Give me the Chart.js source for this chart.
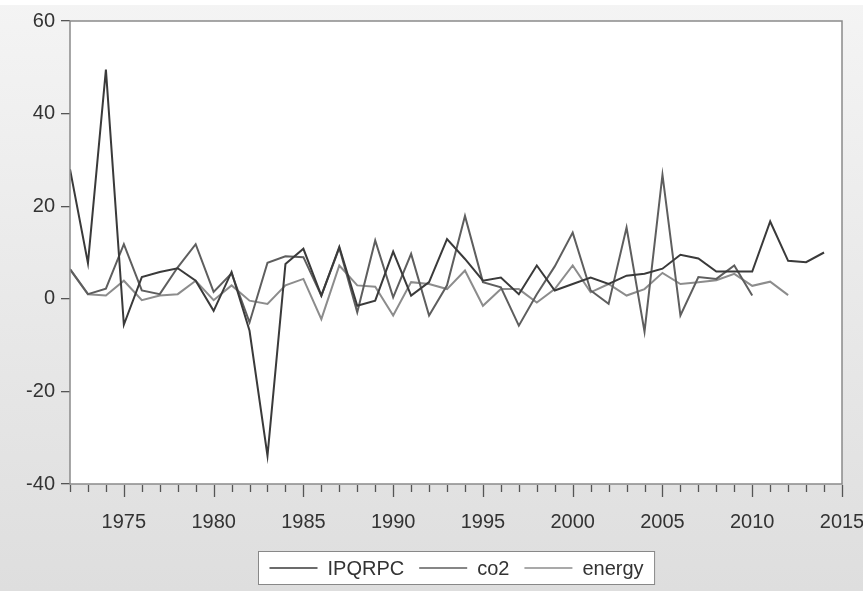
<!DOCTYPE html>
<html>
<head>
<meta charset="utf-8">
<script src="https://cdn.jsdelivr.net/npm/chart.js@4.4.0/dist/chart.umd.min.js"></script>
<style>
  html, body { margin: 0; padding: 0; background: #e8e8e8; }
  #wrap { width: 863px; height: 591px; }
</style>
</head>
<body>
<div id="wrap"><canvas id="c" width="863" height="591"></canvas></div>
<script>
// yearly growth rates, 1972 onwards
const years = [1972, 1973, 1974, 1975, 1976, 1977, 1978, 1979, 1980, 1981,
  1982, 1983, 1984, 1985, 1986, 1987, 1988, 1989, 1990, 1991,
  1992, 1993, 1994, 1995, 1996, 1997, 1998, 1999, 2000, 2001,
  2002, 2003, 2004, 2005, 2006, 2007, 2008, 2009, 2010, 2011,
  2012, 2013, 2014];
const ipqrpc = [28.0, 7.7, 49.5, -5.6, 4.7, 5.8, 6.6, 3.9, -2.6, 5.8,
  -6.9, -33.9, 7.5, 10.8, 0.7, 11.2, -1.5, -0.4, 10.2, 0.7,
  3.6, 12.9, 8.6, 3.9, 4.6, 1.0, 7.2, 1.8, 3.2, 4.6,
  3.2, 5.0, 5.4, 6.5, 9.5, 8.7, 5.9, 5.9, 5.9, 16.7,
  8.2, 7.9, 10.0];
const co2 = [6.4, 1.0, 2.2, 11.8, 1.8, 1.0, 6.8, 11.8, 1.5, 5.5,
  -5.1, 7.8, 9.2, 9.0, 0.7, 11.0, -2.9, 12.6, 0.3, 9.7,
  -3.6, 2.9, 17.9, 3.6, 2.5, -5.8, 1.0, 7.0, 14.3, 1.8,
  -1.1, 15.4, -7.1, 26.8, -3.6, 4.7, 4.3, 7.2, 0.7];
const energy = [6.4, 1.0, 0.7, 3.9, -0.3, 0.7, 1.0, 3.9, -0.3, 2.9,
  -0.4, -1.1, 2.9, 4.3, -4.4, 7.2, 2.9, 2.6, -3.6, 3.6,
  3.2, 2.1, 6.1, -1.5, 2.1, 2.1, -0.8, 2.1, 7.2, 1.4,
  3.2, 0.7, 2.1, 5.6, 3.2, 3.6, 4.0, 5.4, 2.8, 3.7,
  0.8];
const yTicks = [-40, -20, 0, 20, 40, 60];
const xLabels = [1975, 1980, 1985, 1990, 1995, 2000, 2005, 2010, 2015];

const pts = arr => arr.map((v, i) => ({ x: years[i], y: v }));

const FONT = "Liberation Sans, Arial, sans-serif";

// grey panel, white plot, frame, year ticks, boxed legend
const panel = {
  id: "panel",
  beforeDraw(chart) {
    const { ctx, chartArea: a, width, height } = chart;
    const g = ctx.createLinearGradient(0, 0, 0, height);
    g.addColorStop(0, "#f4f4f4");
    g.addColorStop(1, "#dedede");
    ctx.save();
    ctx.fillStyle = g;
    ctx.fillRect(0, 0, width, height);
    ctx.fillStyle = "#ffffff";
    ctx.fillRect(0, 0, width, 5);
    ctx.fillRect(a.left, a.top, a.right - a.left, a.bottom - a.top);
    ctx.restore();
  },
  afterDraw(chart) {
    const { ctx, chartArea: a } = chart;
    const xs = chart.scales.x;
    ctx.save();
    ctx.strokeStyle = "#8a8a8a";
    ctx.lineWidth = 1.5;
    ctx.strokeRect(a.left, a.top, a.right - a.left, a.bottom - a.top);

    ctx.strokeStyle = "#555";
    ctx.lineWidth = 1.3;
    for (let yr = 1972; yr <= 2015; yr++) {
      const px = Math.round(xs.getPixelForValue(yr)) + 0.5;
      const len = yr % 5 === 0 ? 12 : 7;
      ctx.beginPath();
      ctx.moveTo(px, a.bottom + 1);
      ctx.lineTo(px, a.bottom + 1 + len);
      ctx.stroke();
    }

    // legend
    ctx.font = "20px " + FONT;
    const sets = chart.data.datasets;
    const lineW = 48, gap1 = 10, gap2 = 15;
    let total = 0;
    sets.forEach((d, i) => {
      total += lineW + gap1 + ctx.measureText(d.label).width + (i < sets.length - 1 ? gap2 : 0);
    });
    const padX = 11;
    const boxW = total + padX * 2;
    const cx = (a.left + a.right) / 2;
    const bx = Math.round(cx - boxW / 2) + 0.5, by = 551.5, bh = 33;
    ctx.fillStyle = "#ffffff";
    ctx.fillRect(bx, by, boxW, bh);
    ctx.strokeStyle = "#888";
    ctx.lineWidth = 1;
    ctx.strokeRect(bx, by, boxW, bh);
    let x = bx + padX;
    const ly = by + bh / 2;
    ctx.textBaseline = "middle";
    ctx.textAlign = "left";
    sets.forEach(d => {
      ctx.strokeStyle = d.borderColor;
      ctx.lineWidth = 1.5;
      ctx.beginPath();
      ctx.moveTo(x, ly);
      ctx.lineTo(x + lineW, ly);
      ctx.stroke();
      x += lineW + gap1;
      ctx.fillStyle = "#333";
      ctx.fillText(d.label, x, ly + 1);
      x += ctx.measureText(d.label).width + gap2;
    });
    ctx.restore();
  }
};

new Chart(document.getElementById("c"), {
  type: "line",
  data: {
    datasets: [
      { label: "IPQRPC", data: pts(ipqrpc), borderColor: "#3a3a3a" },
      { label: "co2", data: pts(co2), borderColor: "#5e5e5e" },
      { label: "energy", data: pts(energy), borderColor: "#8c8c8c" }
    ]
  },
  options: {
    responsive: false,
    animation: false,
    layout: { padding: { top: 21, right: 21, bottom: 0, left: 0 } },
    elements: {
      line: { borderWidth: 2, tension: 0 },
      point: { radius: 0 }
    },
    plugins: { legend: { display: false }, tooltip: { enabled: false } },
    scales: {
      x: {
        type: "linear",
        min: 1972,
        max: 2015,
        afterBuildTicks: s => { s.ticks = xLabels.map(v => ({ value: v })); },
        afterFit: s => { s.height = 107; s.paddingLeft = 0; s.paddingRight = 0; },
        grid: { display: false },
        border: { display: false },
        ticks: {
          padding: 18,
          maxRotation: 0,
          autoSkip: false,
          color: "#333",
          font: { family: FONT, size: 20 },
          callback: v => String(v)
        }
      },
      y: {
        min: -40,
        max: 60,
        afterBuildTicks: s => { s.ticks = yTicks.map(v => ({ value: v })); },
        afterFit: s => { s.width = 70; s.paddingTop = 0; s.paddingBottom = 0; },
        grid: { drawOnChartArea: false, drawTicks: true, tickLength: 9, color: "#555", lineWidth: 1.3 },
        border: { display: false },
        ticks: {
          padding: 6,
          color: "#333",
          font: { family: FONT, size: 20 }
        }
      }
    }
  },
  plugins: [panel]
});
</script>
</body>
</html>
